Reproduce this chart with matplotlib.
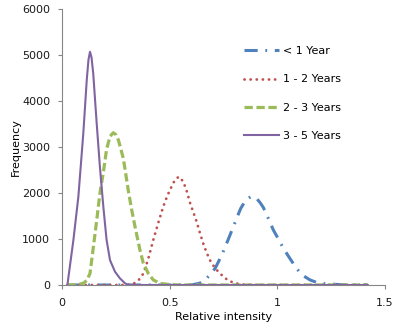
import numpy as np, matplotlib
matplotlib.use("Agg"); import matplotlib.pyplot as plt
plt.rcParams.update({"font.family":"DejaVu Sans","font.size":8,"lines.scale_dashes":False})

# series (relative intensity vs frequency)
x_lt1=[0.025,0.3,0.6,0.641,0.672,0.69,0.711,0.742,0.772,0.796,0.811,0.83,0.845,0.858,0.875,0.89,0.904,
       0.92,0.935,0.958,0.981,1.0,1.028,1.051,1.082,1.1,1.121,1.152,1.18,1.206,1.24,1.268,1.3,1.35,1.42]
y_lt1=[0,0,0,40,145,240,360,650,990,1270,1450,1665,1780,1860,1915,1915,1880,
       1790,1685,1450,1200,1040,800,630,410,300,200,110,60,35,20,15,5,0,0]
x_12=[0.025,0.3,0.33,0.355,0.378,0.40,0.424,0.447,0.47,0.49,0.509,0.525,0.543,0.563,0.58,0.595,0.61,
      0.625,0.64,0.656,0.672,0.687,0.71,0.734,0.757,0.78,0.81,0.84,0.9,1.2,1.42]
y_12=[0,0,20,100,250,560,980,1350,1700,1950,2140,2290,2355,2250,2030,1780,1580,
      1380,1140,900,700,540,370,250,150,80,35,10,0,0,0]
x_23=[0.025,0.05,0.075,0.1,0.115,0.13,0.145,0.161,0.176,0.192,0.207,0.223,0.238,0.25,0.262,0.285,0.308,
      0.323,0.339,0.362,0.378,0.401,0.424,0.455,0.5,0.55,0.8,1.1,1.42]
y_23=[0,0,10,40,100,250,800,1400,1990,2450,2950,3230,3310,3270,3150,2750,2050,
      1650,1270,760,470,250,110,35,10,0,0,0,0]
x_35=[0.025,0.053,0.076,0.099,0.115,0.123,0.13,0.137,0.145,0.161,0.176,0.192,0.207,0.223,0.246,0.269,
      0.293,0.31,0.4,0.7,1.0,1.42]
y_35=[0,980,1920,3300,4460,4900,5070,4950,4600,3520,2570,1700,980,540,290,145,35,0,0,0,0,0]

fig=plt.figure(figsize=(3.97,3.30),dpi=100)
ax=fig.add_axes([62/397,45/330,323/397,276/330])
ax.plot(x_lt1,y_lt1,color="#4F81BD",lw=2.2,ls=(0,(9.5,5.5,1.3,5.5)),solid_capstyle="butt",
        dash_capstyle="butt",label="< 1 Year")
ax.plot(x_12,y_12,color="#C0504D",lw=2.0,ls=(0,(0.1,4.3)),dash_capstyle="round",label="1 - 2 Years")
ax.plot(x_23,y_23,color="#9BBB59",lw=2.3,ls=(0,(6,2.6)),dash_capstyle="butt",label="2 - 3 Years")
ax.plot(x_35,y_35,color="#8064A2",lw=1.5,label="3 - 5 Years")

ax.set_xlim(0,1.5); ax.set_ylim(0,6000)
ax.set_xticks([0,0.5,1,1.5]); ax.set_xticklabels(["0","0.5","1","1.5"])
ax.set_yticks(range(0,6001,1000))
for s in ["top","right"]: ax.spines[s].set_visible(False)
for s in ["left","bottom"]: ax.spines[s].set_color("#868686")
ax.tick_params(direction="out",length=3,color="#868686",labelcolor="#1a1a1a")
ax.tick_params(axis="y",pad=5.5)
ax.tick_params(axis="x",pad=6)
ax.set_xlabel("Relative intensity",labelpad=3)
ax.set_ylabel("Frequency",labelpad=1)
ax.legend(loc="upper left",bbox_to_anchor=(244/397,1-46/330),bbox_transform=fig.transFigure,
          frameon=False,handlelength=3.15,handletextpad=0.35,labelspacing=1.66,borderpad=0,
          borderaxespad=0)
fig.savefig("out.png",dpi=100)
